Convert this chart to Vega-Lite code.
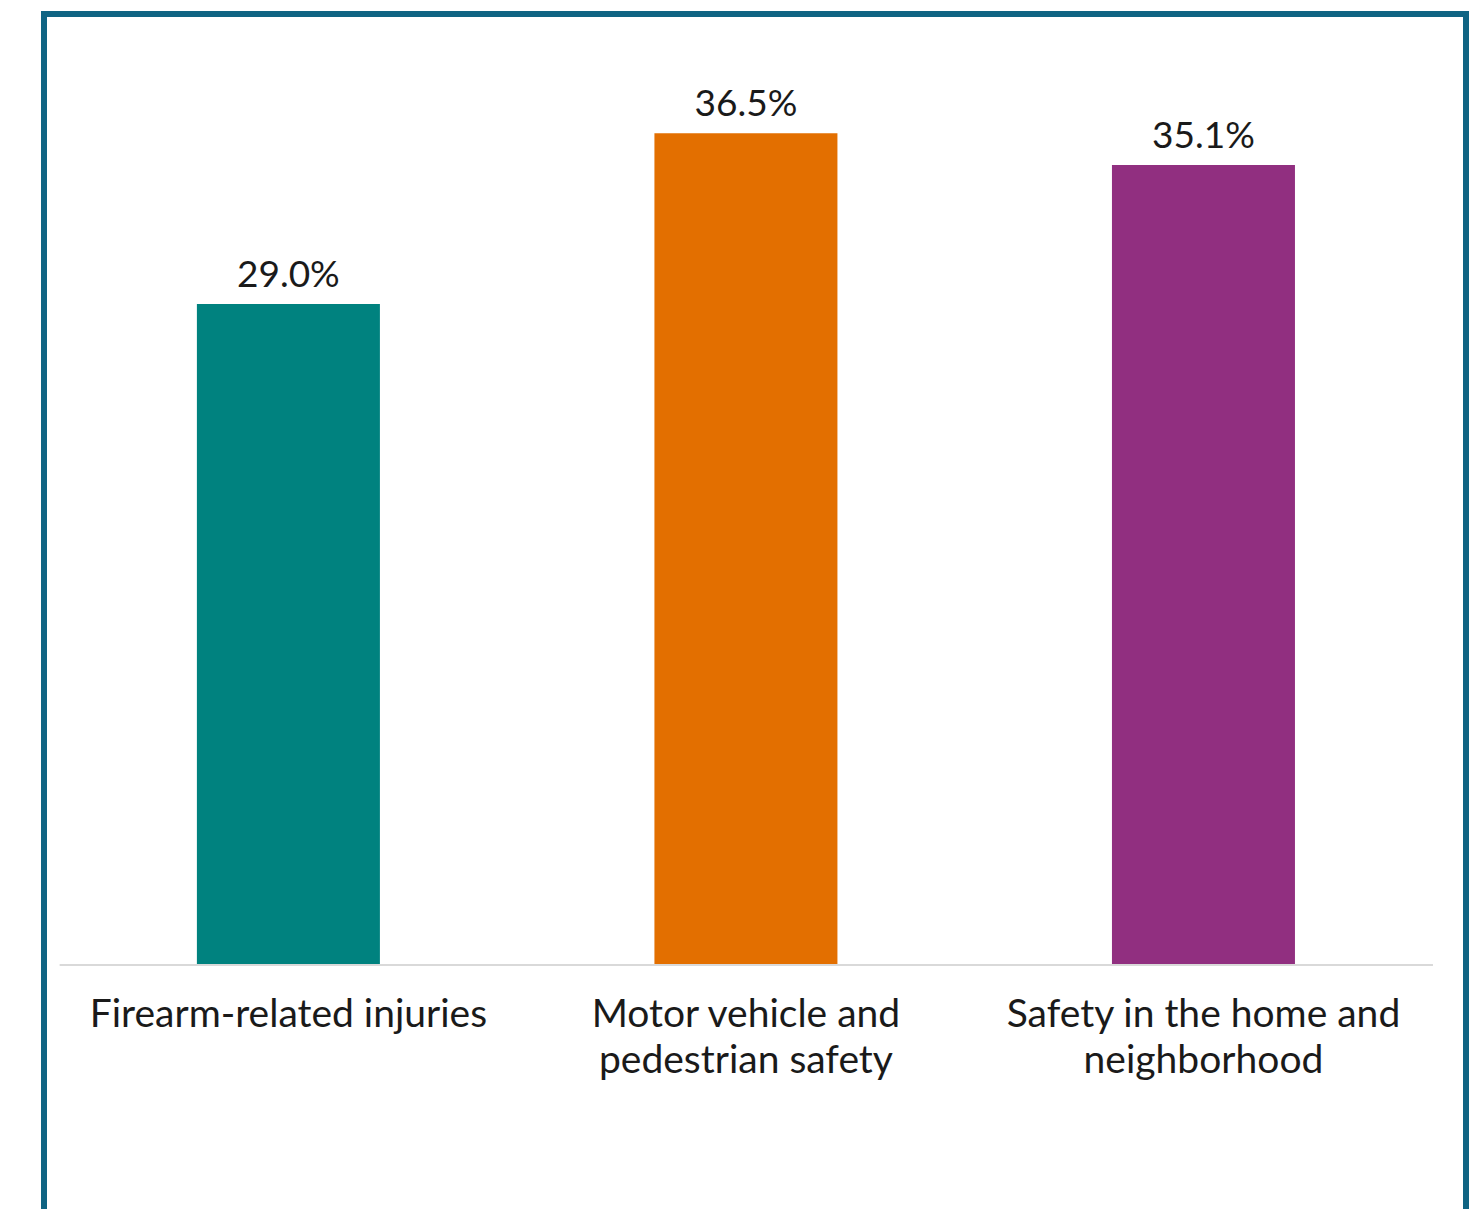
{
  "$schema": "https://vega.github.io/schema/vega-lite/v6.json",
  "autosize": "none",
  "padding": {"left": 44, "top": 14, "right": 10, "bottom": -5},
  "width": 1422,
  "height": 1200,
  "background": "white",
  "view": {"stroke": "#0f6483", "strokeWidth": 6},
  "config": {"font": "Lato"},
  "data": {
    "values": [
      {"category": "Firearm-related injuries", "value": 29.0, "label": "29.0%"},
      {"category": "Motor vehicle and pedestrian safety", "value": 36.5, "label": "36.5%"},
      {"category": "Safety in the home and neighborhood", "value": 35.1, "label": "35.1%"}
    ]
  },
  "encoding": {
    "x": {
      "field": "category",
      "type": "nominal",
      "sort": null,
      "scale": {"paddingInner": 0.6, "paddingOuter": 0.354, "align": 0.472},
      "axis": {
        "title": null,
        "orient": "bottom",
        "offset": -249,
        "domain": false,
        "ticks": false,
        "labelAngle": 0,
        "labelLimit": 0,
        "labelFont": "Lato",
        "labelFontSize": 39,
        "labelColor": "#1a1a1a",
        "labelPadding": 30,
        "labelLineHeight": 46,
        "labelBaseline": "top",
        "labelExpr": "datum.value == 'Motor vehicle and pedestrian safety' ? ['Motor vehicle and', 'pedestrian safety'] : datum.value == 'Safety in the home and neighborhood' ? ['Safety in the home and', 'neighborhood'] : datum.value"
      }
    }
  },
  "layer": [
    {
      "mark": {"type": "bar"},
      "encoding": {
        "y": {
          "field": "value",
          "type": "quantitative",
          "scale": {"domain": [-10.93, 41.73], "nice": false, "zero": false},
          "axis": null
        },
        "color": {
          "field": "category",
          "type": "nominal",
          "sort": null,
          "scale": {"range": ["#00827f", "#e36f00", "#912f80"]},
          "legend": null
        }
      }
    },
    {
      "mark": {"type": "text", "baseline": "alphabetic", "dy": -17, "fontSize": 37, "font": "Lato", "color": "#1a1a1a"},
      "encoding": {
        "y": {"field": "value", "type": "quantitative"},
        "text": {"field": "label"}
      }
    },
    {
      "data": {"values": [{"start": "Firearm-related injuries", "end": "Safety in the home and neighborhood", "zero": 0}]},
      "mark": {"type": "rule", "color": "#d9d9d9", "strokeWidth": 2},
      "encoding": {
        "x": {"field": "start", "type": "nominal", "bandPosition": -0.75},
        "x2": {"field": "end", "bandPosition": 1.754},
        "y": {"field": "zero", "type": "quantitative"}
      }
    }
  ]
}
